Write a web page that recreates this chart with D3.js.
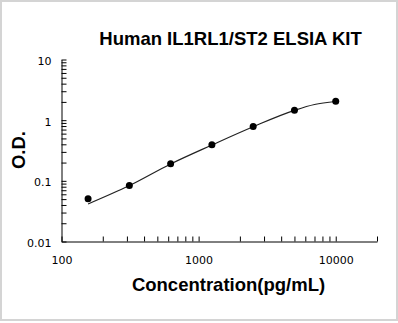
<!DOCTYPE html>
<html>
<head>
<meta charset="utf-8">
<script src="https://cdn.jsdelivr.net/npm/d3@7"></script>
<style>
  body { margin: 0; background: #fff; }
  .tick text { font-family: "DejaVu Sans", Verdana, sans-serif; font-size: 11px; fill: #000; }
  .axis path, .axis line { stroke: #000; stroke-width: 1px; }
  .title { font-family: "Liberation Sans", Arial, sans-serif; font-weight: bold; font-size: 18.5px; fill: #000; }
</style>
</head>
<body>
<svg id="chart" width="398" height="323"></svg>
<script>
// standard points (concentration pg/mL vs O.D.)
var concentrations = [156.25, 312.5, 625, 1250, 2500, 5000, 10000];
var odValues = [0.0507, 0.0838, 0.192, 0.394, 0.789, 1.46, 2.05];

// fitted curve
var fitConc = [156.25, 312.5, 625, 1250, 2500, 5000, 7000, 10000];
var fitOD = [0.0415, 0.0835, 0.19, 0.39, 0.78, 1.45, 1.81, 2.03];

var xTickLabels = ["100", "1000", "10000"];
var yTickLabels = ["0.01", "0.1", "1", "10"];

var svg = d3.select("#chart");

// light frame round the picture
svg.append("rect")
    .attr("x", 1).attr("y", 1)
    .attr("width", 396).attr("height", 319)
    .attr("fill", "none")
    .attr("stroke", "#d4d4d4")
    .attr("stroke-width", 2);

var x = d3.scaleLog().domain([100, 20000]).range([61.5, 377]),
    y = d3.scaleLog().domain([0.01, 10]).range([241.5, 59.5]);

function labelFor(labels) {
    return function (d) {
        var hit = labels.find(function (l) { return Math.abs(Math.log10(+l) - Math.log10(d)) < 1e-6; });
        return hit || "";
    };
}

var xAxis = d3.axisBottom(x)
    .tickValues(x.ticks())
    .tickFormat(labelFor(xTickLabels))
    .tickSizeInner(-5)
    .tickSizeOuter(0)
    .tickPadding(15);

var yAxis = d3.axisLeft(y)
    .tickValues(y.ticks())
    .tickFormat(labelFor(yTickLabels))
    .tickSizeInner(-5)
    .tickSizeOuter(0)
    .tickPadding(10);

svg.append("g")
    .attr("class", "axis axis--x")
    .attr("transform", "translate(0,241.5)")
    .call(xAxis);

svg.append("g")
    .attr("class", "axis axis--y")
    .attr("transform", "translate(61.5,0)")
    .call(yAxis)
    .selectAll("text").attr("dy", "0.45em");

// fitted line
var fitData = fitConc.map(function (c, i) { return { conc: c, od: fitOD[i] }; });
var line = d3.line()
    .x(function (d) { return x(d.conc); })
    .y(function (d) { return y(d.od); })
    .curve(d3.curveMonotoneX);

svg.append("path")
    .datum(fitData)
    .attr("fill", "none")
    .attr("stroke", "#222")
    .attr("stroke-width", 1.2)
    .attr("d", line);

// standard points
svg.selectAll(".dot")
    .data(concentrations.map(function (c, i) { return { conc: c, od: odValues[i] }; }))
    .enter().append("circle")
    .attr("class", "dot")
    .attr("cx", function (d) { return x(d.conc); })
    .attr("cy", function (d) { return y(d.od); })
    .attr("r", 3.5)
    .attr("fill", "#000");

// titles
svg.append("text")
    .attr("class", "title")
    .attr("x", 230.5).attr("y", 44.5)
    .attr("text-anchor", "middle")
    .text("Human IL1RL1/ST2 ELSIA KIT");

svg.append("text")
    .attr("class", "title")
    .attr("x", 228.5).attr("y", 291)
    .attr("text-anchor", "middle")
    .text("Concentration(pg/mL)");

svg.append("text")
    .attr("class", "title")
    .attr("transform", "translate(25,150) rotate(-90)")
    .attr("text-anchor", "middle")
    .text("O.D.");
</script>
</body>
</html>
